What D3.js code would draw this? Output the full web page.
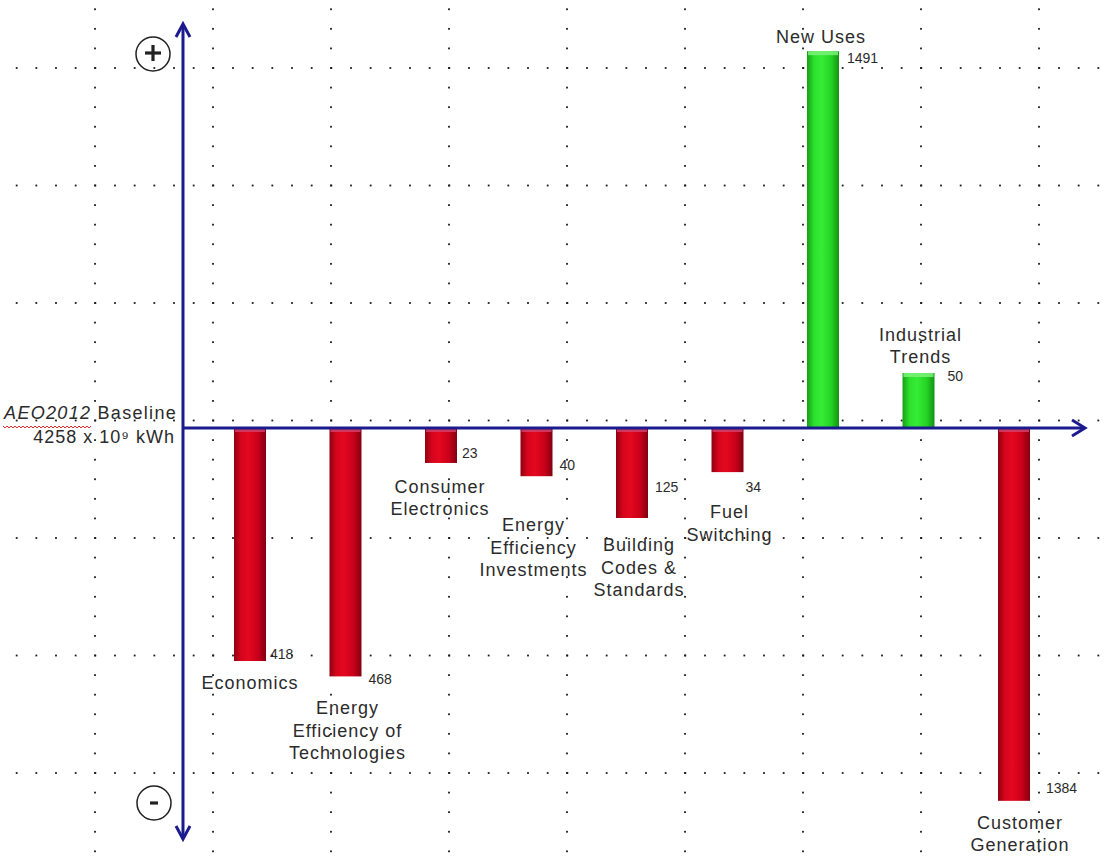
<!DOCTYPE html>
<html>
<head>
<meta charset="utf-8">
<script src="https://cdn.jsdelivr.net/npm/d3@7"></script>
<style>
  html, body { margin: 0; padding: 0; background: #fff; }
  svg { display: block; font-family: "Liberation Sans", Arial, sans-serif; }
</style>
</head>
<body>
<svg id="chart" width="1112" height="859"></svg>
<script>
// Contributions to the change in electricity demand vs. the AEO2012 baseline (10^9 kWh)
const categories = [
  "Economics", "Energy Efficiency of Technologies", "Consumer Electronics",
  "Energy Efficiency Investments", "Building Codes & Standards", "Fuel Switching",
  "New Uses", "Industrial Trends", "Customer Generation"
];
const changes = [-418, -468, -23, -40, -125, -34, 1491, 50, -1384];
const valueLabels = ["418", "468", "23", "40", "125", "34", "1491", "50", "1384"];
const categoryLines = [
  ["Economics"],
  ["Energy", "Efficiency of", "Technologies"],
  ["Consumer", "Electronics"],
  ["Energy", "Efficiency", "Investments"],
  ["Building", "Codes &", "Standards"],
  ["Fuel", "Switching"],
  ["New Uses"],
  ["Industrial", "Trends"],
  ["Customer", "Generation"]
];
const baselineName = "AEO2012";
const baselineWord = "Baseline";
const baselineValue = "4258 x 10⁹ kWh";

// ---- layout ----
const W = 1112, H = 859;
const AXIS_X = 183;
const NAVY = "#1b1b8e";
const TEXT = "#2b2b2b";

// label nudges (px) relative to each bar's end / right edge
const nameGap = [28, 38, 30, 55, 33, 46, -8, -10, 28];
const nameDx  = [0, 2, -1, -3, 7, 2, -2, 2, 6];
const valDx   = [4, 7, 5, 7, 7, 2, 8, 13, 16];
const valDy   = [-2, 8, -5, -6, -26, 20, 12, 8, -8];

const svg = d3.select("#chart");
svg.append("rect").attr("width", W).attr("height", H).attr("fill", "#fff");

const x = d3.scaleBand()
  .domain(categories)
  .range([202, 1062])
  .paddingInner(0.665)
  .paddingOuter(0.335);

// schematic (broken) value axis: small changes are stretched, large ones compressed
const y = d3.scaleLinear()
  .domain([-1500, -1400, -470, -420, -125, -50, -25, 0, 25, 50, 125, 420, 470, 1400, 1500])
  .range([805, 803, 677, 662, 518, 483, 466, 428, 390, 373, 338, 194, 179, 53, 51]);

// ---- dotted grid ----
const grid = svg.append("g").attr("fill", "#1a1a1a");
const colStep = 118, rowStep = 117.5;
const colXs = d3.range(0, 9).map(k => 95 + k * colStep);
const rowYs = d3.range(0, 7).map(k => 68 + k * rowStep);
rowYs.forEach(ry => {
  d3.range(-3, W, colStep / 6).forEach(dx => {
    grid.append("rect").attr("x", dx - 0.9).attr("y", ry - 0.9).attr("width", 1.8).attr("height", 1.8);
  });
});
colXs.forEach(cx => {
  d3.range(68 - 3 * rowStep / 6, H, rowStep / 6).forEach(dy => {
    grid.append("rect").attr("x", cx - 0.9).attr("y", dy - 0.9).attr("width", 1.8).attr("height", 1.8);
  });
});

// ---- gradients ----
const defs = svg.append("defs");
function barGradient(id, stops) {
  const g = defs.append("linearGradient").attr("id", id)
    .attr("x1", "0%").attr("x2", "100%").attr("y1", "0%").attr("y2", "0%");
  stops.forEach(([o, c]) => g.append("stop").attr("offset", o).attr("stop-color", c));
}
barGradient("redBar", [["0%", "#8f0010"], ["22%", "#d6051d"], ["45%", "#e3081f"], ["75%", "#c9001a"], ["100%", "#820010"]]);
barGradient("greenBar", [["0%", "#169f16"], ["22%", "#2ee02e"], ["45%", "#36ec36"], ["75%", "#26d426"], ["100%", "#139313"]]);

// ---- bars ----
const zero = y(0);
const bars = svg.append("g");
categories.forEach((c, i) => {
  const v = changes[i];
  const yEnd = y(v);
  const top = Math.min(yEnd, zero);
  const h = Math.abs(yEnd - zero);
  const up = v > 0;
  bars.append("rect")
    .attr("x", x(c)).attr("y", top)
    .attr("width", x.bandwidth()).attr("height", h)
    .attr("fill", up ? "url(#greenBar)" : "url(#redBar)");
  // lighter cap on the top face of each bar
  bars.append("rect")
    .attr("x", x(c) + 1).attr("y", top)
    .attr("width", x.bandwidth() - 2).attr("height", 4)
    .attr("fill", up ? "#7af27a" : "#d0406a")
    .attr("opacity", 0.85);
});

// ---- axes (arrows) ----
const axes = svg.append("g")
  .attr("stroke", NAVY).attr("stroke-width", 3).attr("fill", "none")
  .attr("stroke-linejoin", "miter").attr("stroke-linecap", "butt");
axes.append("line").attr("x1", AXIS_X).attr("x2", AXIS_X).attr("y1", 25).attr("y2", 838);
axes.append("path").attr("d", `M${AXIS_X - 7},37 L${AXIS_X},24 L${AXIS_X + 7},37`);
axes.append("path").attr("d", `M${AXIS_X - 7},826 L${AXIS_X},839 L${AXIS_X + 7},826`);
axes.append("line").attr("x1", AXIS_X).attr("x2", 1083).attr("y1", zero).attr("y2", zero);
axes.append("path").attr("d", `M1072,${zero - 8} L1085,${zero} L1072,${zero + 8}`);

// plus / minus markers
const marks = svg.append("g").attr("stroke", "#222");
marks.append("circle").attr("cx", 153).attr("cy", 54).attr("r", 17).attr("fill", "none").attr("stroke-width", 1.5);
marks.append("line").attr("x1", 145).attr("x2", 161).attr("y1", 53).attr("y2", 53).attr("stroke-width", 3.2);
marks.append("line").attr("x1", 153).attr("x2", 153).attr("y1", 45).attr("y2", 61).attr("stroke-width", 3.2);
marks.append("circle").attr("cx", 154).attr("cy", 803).attr("r", 17).attr("fill", "none").attr("stroke-width", 1.5);
marks.append("line").attr("x1", 150).attr("x2", 158).attr("y1", 803).attr("y2", 803).attr("stroke-width", 3.2);

// ---- category labels ----
const labels = svg.append("g")
  .attr("fill", TEXT).attr("font-size", 18).attr("letter-spacing", 1)
  .attr("text-anchor", "middle");
const LINE = 22.5;
categories.forEach((c, i) => {
  const v = changes[i];
  const cx = x(c) + x.bandwidth() / 2 + nameDx[i];
  const lines = categoryLines[i];
  const yEnd = y(v);
  const first = v > 0
    ? yEnd + nameGap[i] - (lines.length - 1) * LINE
    : yEnd + nameGap[i];
  const t = labels.append("text").attr("x", cx).attr("y", first);
  lines.forEach((ln, j) => {
    t.append("tspan").attr("x", cx).attr("dy", j === 0 ? 0 : LINE).text(ln);
  });
});

// ---- value labels ----
const values = svg.append("g").attr("fill", TEXT).attr("font-size", 14);
categories.forEach((c, i) => {
  values.append("text")
    .attr("x", x(c) + x.bandwidth() + valDx[i])
    .attr("y", y(changes[i]) + valDy[i])
    .text(valueLabels[i]);
});

// ---- baseline caption ----
const cap = svg.append("g").attr("fill", TEXT).attr("font-size", 18);
const t1 = cap.append("text").attr("x", 177).attr("y", 419).attr("text-anchor", "end").attr("letter-spacing", 1.3);
t1.append("tspan").attr("font-style", "italic").text(baselineName);
t1.append("tspan").text(" " + baselineWord);
cap.append("text").attr("x", 175).attr("y", 443).attr("text-anchor", "end").attr("letter-spacing", 1)
  .text(baselineValue);

// spell-check style wavy underline under the report name
const nameNode = t1.select("tspan").node();
const tb = t1.node().getBBox();
const wx0 = Math.max(tb.x, 0);
const wx1 = tb.x + nameNode.getComputedTextLength();
let d = `M${wx0},426`;
for (let px = wx0, k = 0; px < wx1; px += 2, k++) d += ` L${px + 2},${k % 2 ? 426 : 428}`;
svg.append("path").attr("d", d).attr("fill", "none").attr("stroke", "#d02020").attr("stroke-width", 1);
</script>
</body>
</html>
